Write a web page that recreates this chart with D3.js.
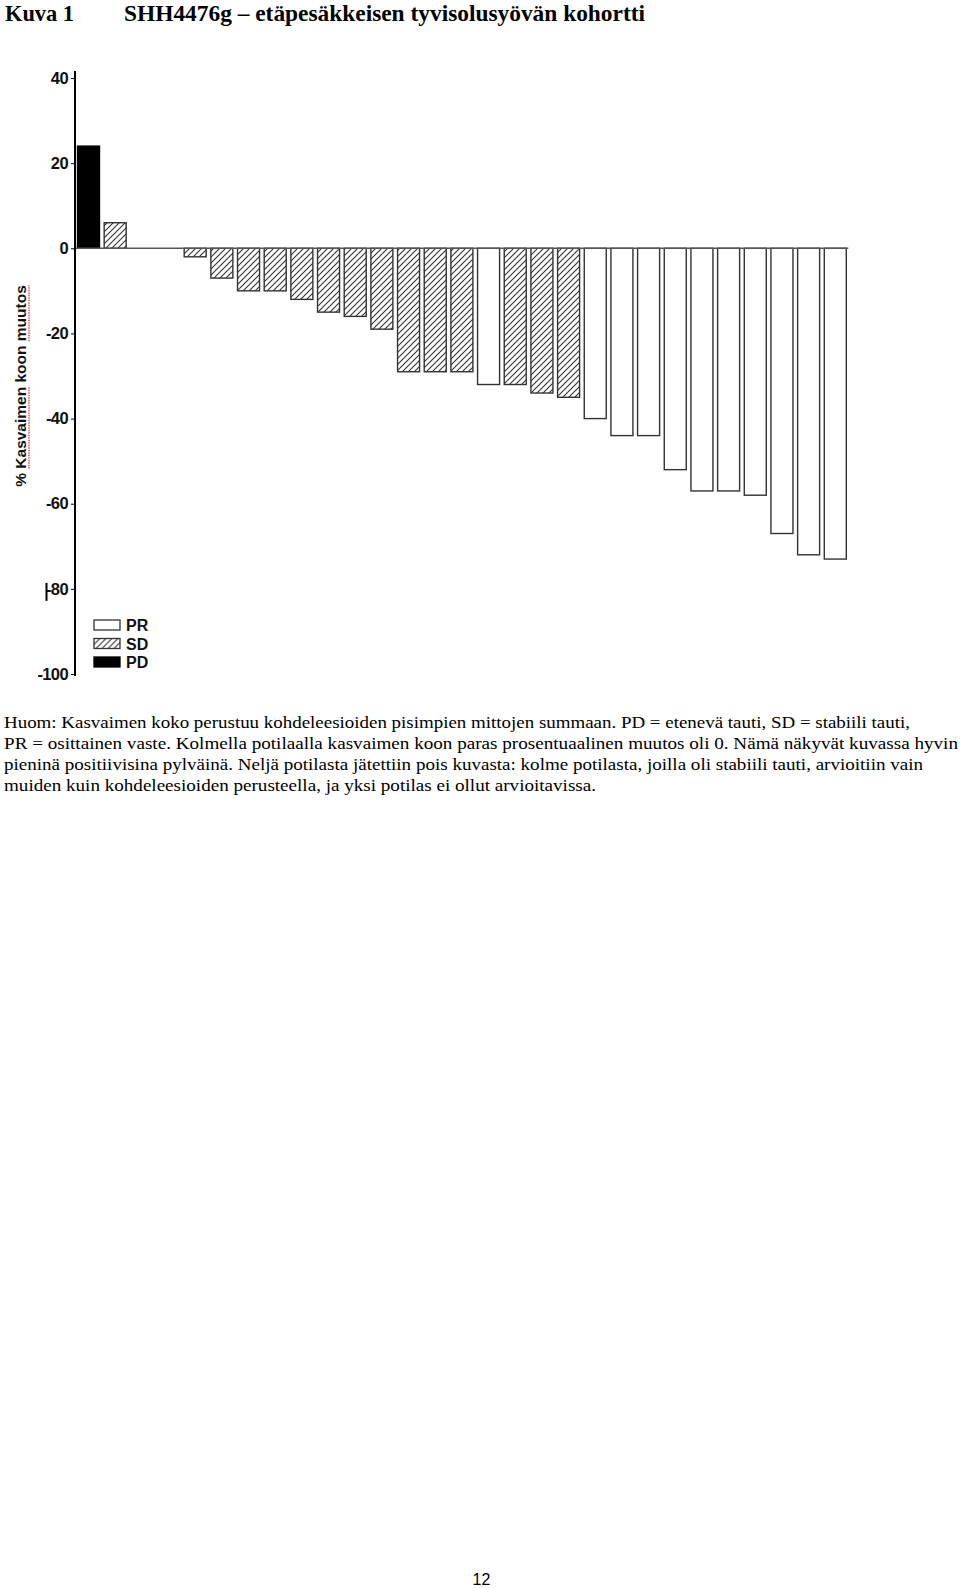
<!DOCTYPE html>
<html>
<head>
<meta charset="utf-8">
<script src="https://cdn.jsdelivr.net/npm/d3@7/dist/d3.min.js"></script>
<style>
  body { margin: 0; background: #fff; }
  svg { display: block; }
</style>
</head>
<body>
<svg id="page"></svg>
<script>
// Data (best % change in tumour size, one bar per patient)
var responses = ["PD", "SD", "SD", "SD", "SD", "SD", "SD", "SD", "SD", "SD",
                 "SD", "SD", "SD", "SD", "SD", "PR", "SD", "SD", "SD", "PR",
                 "PR", "PR", "PR", "PR", "PR", "PR", "PR", "PR", "PR"];
var changes = [24, 6, 0, 0, -2, -7, -10, -10, -12, -15,
               -16, -19, -29, -29, -29, -32, -32, -34, -35, -40,
               -44, -44, -52, -57, -57, -58, -67, -72, -73];
var yTicks = [40, 20, 0, -20, -40, -60, -80, -100];
var legendLabels = ["PR", "SD", "PD"];

var titleLeft = "Kuva 1";
var titleRight = "SHH4476g \u2013 et\u00e4pes\u00e4kkeisen tyvisolusy\u00f6v\u00e4n kohortti";
var yTitle = ["% ", "Kasvaimen", " koon ", "muutos"];
var noteLines = [
    "Huom: Kasvaimen koko perustuu kohdeleesioiden pisimpien mittojen summaan. PD = etenev\u00e4 tauti, SD = stabiili tauti,",
    "PR = osittainen vaste. Kolmella potilaalla kasvaimen koon paras prosentuaalinen muutos oli 0. N\u00e4m\u00e4 n\u00e4kyv\u00e4t kuvassa hyvin",
    "pienin\u00e4 positiivisina pylv\u00e4in\u00e4. Nelj\u00e4 potilasta j\u00e4tettiin pois kuvasta: kolme potilasta, joilla oli stabiili tauti, arvioitiin vain",
    "muiden kuin kohdeleesioiden perusteella, ja yksi potilas ei ollut arvioitavissa."
];
var noteWidths = [906, 954, 919, 592];
var pageNumber = "12";

// Sizes
var width = 960;
var height = 1589;

var svg = d3.select('#page')
    .attr('width', width)
    .attr('height', height);

svg.append('rect').attr('width', width).attr('height', height).attr('fill', '#fff');

// hatch pattern for SD bars
var defs = svg.append('defs');
defs.append('pattern')
    .attr('id', 'hatch')
    .attr('patternUnits', 'userSpaceOnUse')
    .attr('width', 6)
    .attr('height', 6)
    .append('path')
    .attr('d', 'M-1,1 l2,-2 M0,6 l6,-6 M5,7 l2,-2')
    .attr('stroke', '#333')
    .attr('stroke-width', 1.1);

var fills = { PR: '#fff', SD: 'url(#hatch)', PD: '#000' };
var strokes = { PR: '#333', SD: '#333', PD: '#000' };

// Title
svg.append('text')
    .attr('x', 5).attr('y', 21)
    .attr('textLength', 69).attr('lengthAdjust', 'spacingAndGlyphs')
    .style('font', 'bold 24px "Liberation Serif", serif')
    .text(titleLeft);
svg.append('text')
    .attr('x', 124).attr('y', 21)
    .attr('textLength', 521).attr('lengthAdjust', 'spacingAndGlyphs')
    .style('font', 'bold 24px "Liberation Serif", serif')
    .text(titleRight);

// Scales
var x = d3.scaleBand()
    .domain(d3.range(changes.length))
    .range([77.5, 846.3])
    .paddingInner(0.175)
    .paddingOuter(0);

var y = d3.scaleLinear()
    .domain([-100, 40])
    .range([674, 78]);

var axisX = 75;

// Bars
svg.append('g').selectAll('rect')
    .data(changes)
    .enter().append('rect')
    .attr('x', function (d, i) { return x(i); })
    .attr('y', function (d) { return y(Math.max(d, 0)); })
    .attr('width', x.bandwidth())
    .attr('height', function (d) { return Math.abs(y(d) - y(0)); })
    .attr('fill', function (d, i) { return fills[responses[i]]; })
    .attr('stroke', function (d, i) { return strokes[responses[i]]; })
    .attr('stroke-width', 1.4)
    .attr('display', function (d) { return d === 0 ? 'none' : null; });

// Zero line
svg.append('line')
    .attr('x1', axisX).attr('x2', x(changes.length - 1) + x.bandwidth() + 2)
    .attr('y1', y(0)).attr('y2', y(0))
    .attr('stroke', '#555')
    .attr('stroke-width', 1.5);

// Y axis
var yAxis = svg.append('g')
    .attr('transform', 'translate(' + axisX + ',0)')
    .call(d3.axisLeft(y).tickValues(yTicks).tickSize(4).tickPadding(3)
        .tickFormat(function (d) { return String(d); }));
yAxis.select('.domain').remove();
yAxis.selectAll('.tick line').attr('stroke', '#000').attr('stroke-width', 1);
yAxis.selectAll('.tick text')
    .attr('fill', '#111')
    .style('font', 'bold 16.5px "Liberation Sans", Arial, sans-serif')
    .style('letter-spacing', '-0.6px');

svg.append('line')
    .attr('x1', axisX).attr('x2', axisX)
    .attr('y1', y(40) - 7).attr('y2', y(-100) + 2)
    .attr('stroke', '#000')
    .attr('stroke-width', 2);

// stray mark next to -80 in the original scan
svg.append('line')
    .attr('x1', 46.5).attr('x2', 46.5)
    .attr('y1', y(-80) - 6).attr('y2', y(-80) + 12)
    .attr('stroke', '#000')
    .attr('stroke-width', 2);

// Y title, rotated
var yt = svg.append('g').attr('transform', 'translate(26,386)rotate(-90)');
var ytText = yt.append('text')
    .attr('text-anchor', 'middle')
    .attr('fill', '#111')
    .style('font', 'bold 15.5px "Liberation Sans", Arial, sans-serif');
ytText.selectAll('tspan').data(yTitle).enter().append('tspan').text(function (d) { return d; });

// red spell-check squiggles under two words
var ytNode = ytText.node();
var total = ytNode.getComputedTextLength();
var pos = 0;
yTitle.forEach(function (w, i) {
    var len = ytNode.getSubStringLength(pos, w.length);
    var start = -total / 2 + ytNode.getSubStringLength(0, pos);
    if (i === 1 || i === 3) {
        yt.append('line')
            .attr('x1', start).attr('x2', start + len)
            .attr('y1', 3).attr('y2', 3)
            .attr('stroke', '#d22')
            .attr('stroke-width', 1.2)
            .attr('stroke-dasharray', '1.5,1');
    }
    pos += w.length;
});

// Legend
var legend = svg.append('g').attr('transform', 'translate(94,620)');
var row = legend.selectAll('g').data(legendLabels).enter().append('g')
    .attr('transform', function (d, i) { return 'translate(0,' + (i * 18.5) + ')'; });
row.append('rect')
    .attr('width', 26).attr('height', 10)
    .attr('fill', function (d) { return fills[d]; })
    .attr('stroke', function (d) { return strokes[d]; })
    .attr('stroke-width', 1.3);
row.append('text')
    .attr('x', 32).attr('y', 11)
    .attr('fill', '#111')
    .style('font', 'bold 16px "Liberation Sans", Arial, sans-serif')
    .text(function (d) { return d; });

// Note below the figure
svg.append('g').selectAll('text')
    .data(noteLines)
    .enter().append('text')
    .attr('x', 4)
    .attr('y', function (d, i) { return 728 + i * 21; })
    .attr('textLength', function (d, i) { return noteWidths[i]; })
    .attr('lengthAdjust', 'spacingAndGlyphs')
    .style('font', '17.5px "Liberation Serif", serif')
    .text(function (d) { return d; });

// Page number
svg.append('text')
    .attr('x', 481.5).attr('y', 1585)
    .attr('text-anchor', 'middle')
    .style('font', '16px "Liberation Sans", Arial, sans-serif')
    .text(pageNumber);
</script>
</body>
</html>
